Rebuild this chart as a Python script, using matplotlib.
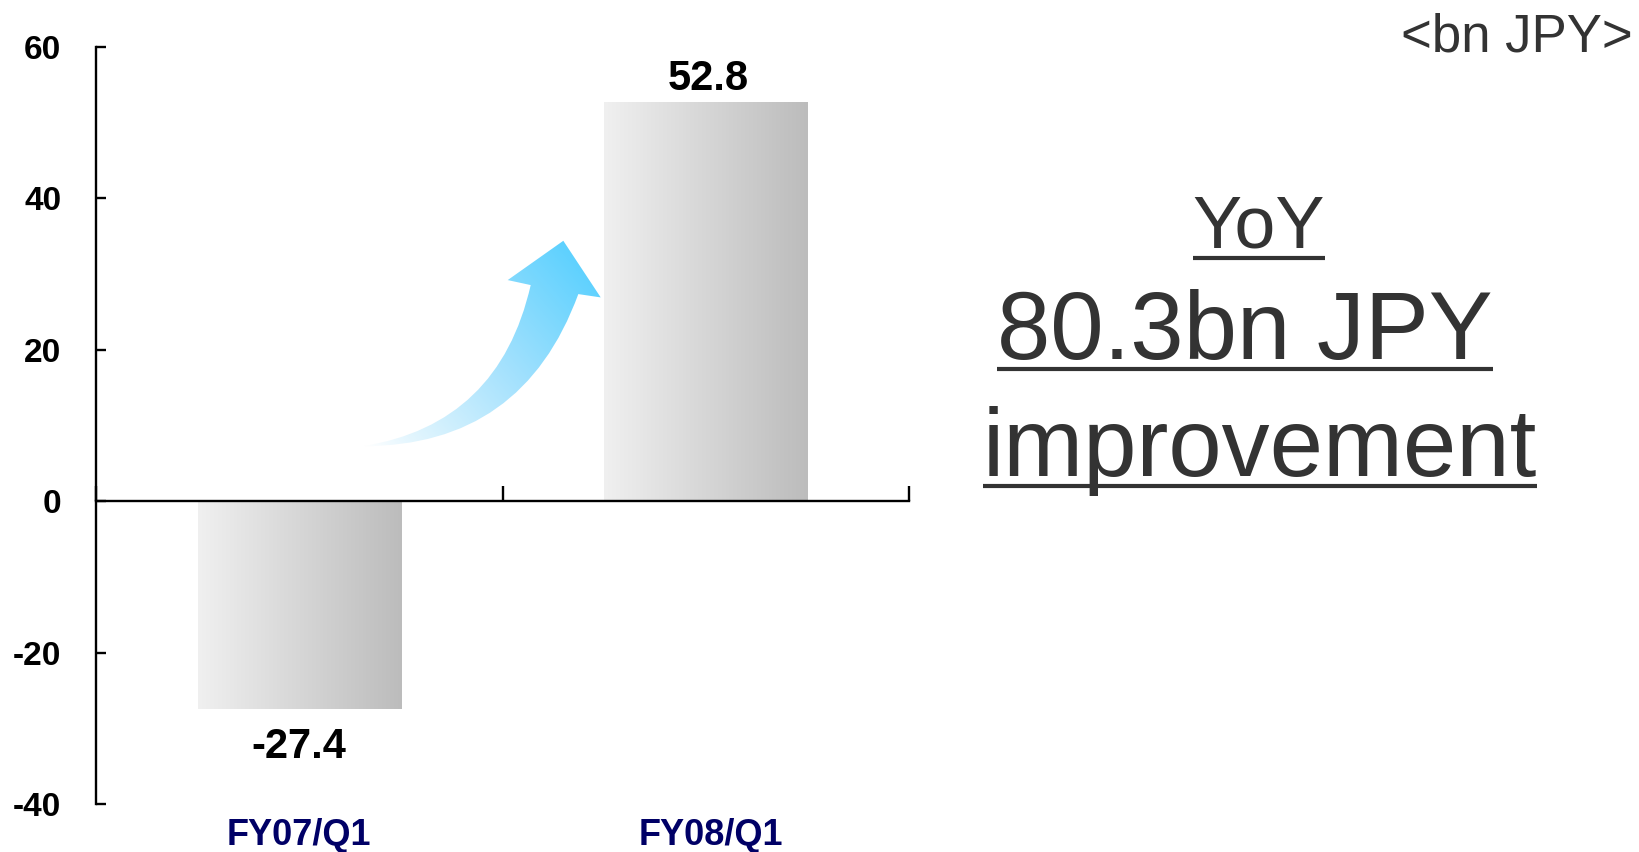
import numpy as np
import matplotlib
matplotlib.use("Agg")
import matplotlib.pyplot as plt
from matplotlib.path import Path
from matplotlib.patches import PathPatch
from matplotlib.colors import LinearSegmentedColormap
from matplotlib.lines import Line2D
from matplotlib.transforms import blended_transform_factory

# data
categories = ["FY07/Q1", "FY08/Q1"]
values = [-27.4, 52.8]
value_labels = ["-27.4", "52.8"]
y_ticks = [-40, -20, 0, 20, 40, 60]
unit_label = "<bn JPY>"
yoy_lines = ["YoY", "80.3bn JPY", "improvement"]

plt.rcParams["font.family"] = ["Liberation Sans", "DejaVu Sans"]

W, H = 1639, 852
fig = plt.figure(figsize=(W / 100, H / 100), dpi=100)
ax = fig.add_axes([96 / W, 1 - 804 / H, (909 - 96) / W, (804 - 47) / H])

x = np.arange(len(categories)) + 0.5

# bars with horizontal grey gradient
bar_cmap = LinearSegmentedColormap.from_list("bar", ["#f0f0f0", "#bcbcbc"])
grad = np.linspace(0, 1, 256).reshape(1, -1)
bars = ax.bar(x, values, width=0.5, color="none", edgecolor="none", zorder=2)
for b in bars:
    x0, y0 = b.get_x(), b.get_y()
    x1, y1 = x0 + b.get_width(), y0 + b.get_height()
    im = ax.imshow(grad, cmap=bar_cmap, aspect="auto", zorder=2,
                   extent=[x0, x1, min(y0, y1), max(y0, y1)], interpolation="bicubic")
    im.set_clip_path(b)

# curved gradient arrow (in category / value units)
arrow_verts = [
    (0.6576, 7.27), (1.0497, 7.27), (1.1865, 27.36),
    (1.2416, 26.92), (1.1496, 34.40), (1.0128, 29.21), (1.0694, 28.55),
    (0.9914, 10.18), (0.6576, 7.27), (0.6576, 7.27),
]
arrow_codes = [Path.MOVETO, Path.CURVE3, Path.CURVE3,
               Path.LINETO, Path.LINETO, Path.LINETO, Path.LINETO,
               Path.CURVE3, Path.CURVE3, Path.CLOSEPOLY]
arrow_patch = PathPatch(Path(arrow_verts, arrow_codes), facecolor="none",
                        edgecolor="none", zorder=3)
ax.add_patch(arrow_patch)

ax_x0, ax_x1, ax_y0, ax_y1 = 0.62, 1.26, 6.5, 35.0
gx, gy = np.meshgrid(np.linspace(ax_x0, ax_x1, 300), np.linspace(ax_y0, ax_y1, 300))
px, py = gx * 406.5, gy * 7.567
d = np.array([219.0, 186.0]) / np.hypot(219.0, 186.0)
t = (px - 0.6576 * 406.5) * d[0] + (py - 7.27 * 7.567) * d[1]
t = np.clip(t / t.max(), 0, 1)
arrow_cmap = LinearSegmentedColormap.from_list(
    "arrow", [(0, "#ffffff"), (0.12, "#e4f6fe"), (0.5, "#a3e1fd"), (1, "#48ccff")])
aim = ax.imshow(t, cmap=arrow_cmap, origin="lower", aspect="auto", zorder=3,
                extent=[ax_x0, ax_x1, ax_y0, ax_y1], interpolation="bilinear")
aim.set_clip_path(arrow_patch)

ax.set_xlim(0, 2)
ax.set_ylim(-40, 60)

# axes styling
for s in ["top", "right"]:
    ax.spines[s].set_visible(False)
ax.spines["bottom"].set_position(("data", 0))
ax.spines["bottom"].set_linewidth(1.7)
ax.spines["left"].set_linewidth(1.7)
ax.spines["bottom"].set_zorder(4)
ax.set_xticks([0, 1, 2])
ax.set_xticklabels([])
ax.tick_params(axis="x", direction="in", length=11, width=1.7)
ax.set_yticks(y_ticks)
ax.set_yticklabels([str(v) for v in y_ticks], fontsize=24, fontweight="bold")
ax.tick_params(axis="y", direction="in", length=7.5, width=1.7, pad=25)
ax.patch.set_visible(False)

# value labels
for xi, v, lab in zip(x, values, value_labels):
    if v >= 0:
        ax.annotate(lab, (xi, v), xytext=(2, 2), textcoords="offset points",
                    ha="center", va="bottom", fontsize=30, fontweight="bold")
    else:
        ax.annotate(lab, (xi, v), xytext=(0, -13), textcoords="offset points",
                    ha="center", va="top", fontsize=30, fontweight="bold")

# category labels near the bottom of the figure
tr = blended_transform_factory(ax.transData, fig.transFigure)
for i, (xi, c) in enumerate(zip(x, categories)):
    ax.text(xi + 0.012 * i, 7 / H, c, transform=tr, ha="center", va="baseline",
            fontsize=26, fontweight="bold", color="#000066")

# unit
fig.text(1633 / W, 1 - 51 / H, unit_label, ha="right", va="baseline",
         fontsize=38, color="#333333")

# YoY text with underlines
yoy_pos = [(1259, 248, 53), (1245, 359, 69), (1260, 476, 69)]
texts = []
for line, (cx, base, fs) in zip(yoy_lines, yoy_pos):
    t_ = fig.text(cx / W, 1 - base / H, line, ha="center", va="baseline",
                  fontsize=fs, color="#333333")
    texts.append((t_, base))

fig.canvas.draw()
r = fig.canvas.get_renderer()
for t_, base in texts:
    bb = t_.get_window_extent(r)
    uy = 1 - (base + 10) / H
    fig.add_artist(Line2D([bb.x0 / W, bb.x1 / W], [uy, uy], transform=fig.transFigure,
                          color="#333333", linewidth=3.0, solid_capstyle="butt"))

fig.savefig("out.png", dpi=100)
